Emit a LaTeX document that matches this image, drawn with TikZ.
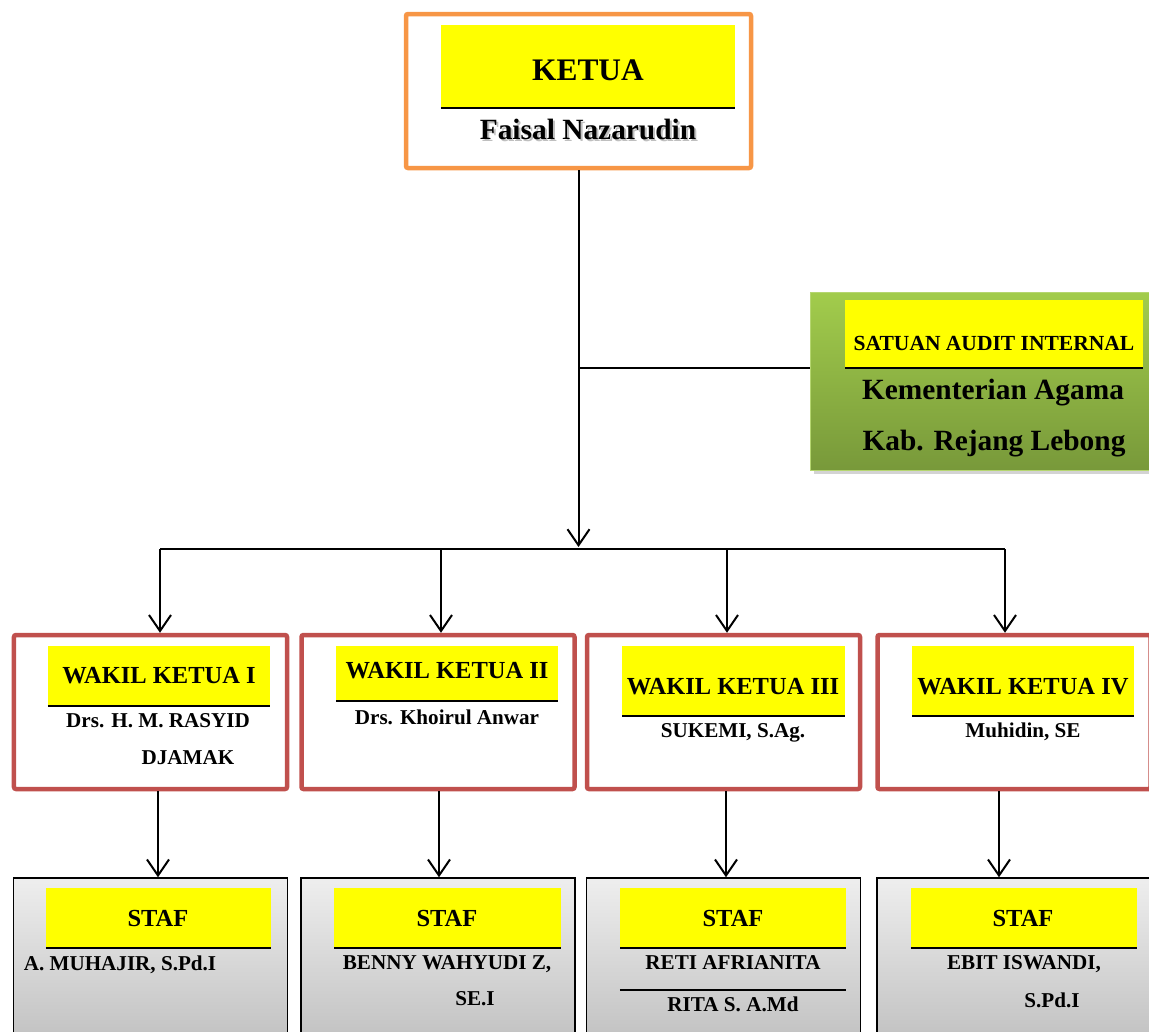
\documentclass[tikz,border=0pt]{standalone}
\usepackage{fontspec}
\setmainfont{Liberation Serif}
\usetikzlibrary{arrows.meta,positioning,shadows}
\definecolor{ketuaorange}{HTML}{F79646}
\definecolor{wakilred}{HTML}{C0504D}
\definecolor{auditlight}{HTML}{A2CC4C}
\definecolor{auditdark}{HTML}{78993A}
\definecolor{staftop}{HTML}{EEEEEE}
\definecolor{stafbottom}{HTML}{BDBDBD}
\definecolor{headyellow}{HTML}{FFFF00}
\newcommand{\ketuafont}{\fontsize{31.5}{34}\selectfont\bfseries}
\newcommand{\bossfont}{\fontsize{29.5}{32}\selectfont\bfseries}
\newcommand{\auditfont}{\fontsize{21.6}{24}\selectfont\bfseries}
\newcommand{\kemenfont}{\fontsize{29.5}{32}\selectfont\bfseries}
\newcommand{\titlefont}{\fontsize{24.6}{27}\selectfont\bfseries}
\newcommand{\namefont}{\fontsize{21.2}{24}\selectfont\bfseries}
\tikzset{
    %Define standard arrow tip
    >={Straight Barb[length=16bp,width=22bp]},
    %Define style for boxes
    ketuabox/.style={
           rectangle,
           rounded corners=2bp,
           draw=ketuaorange, line width=4.5bp,
           fill=white,
           minimum width=345bp,
           minimum height=154bp},
    wakilbox/.style={
           rectangle,
           rounded corners=2bp,
           draw=wakilred, line width=4.5bp,
           fill=white,
           minimum width=273bp,
           minimum height=154bp},
    stafbox/.style={
           rectangle,
           draw=black, line width=1.5bp,
           top color=staftop, bottom color=stafbottom,
           minimum width=274bp,
           minimum height=180bp},
    auditbox/.style={
           rectangle,
           draw=auditlight!80!white, line width=1bp,
           top color=auditlight, bottom color=auditdark,
           minimum width=350bp,
           minimum height=178bp,
           drop shadow={shadow xshift=4bp, shadow yshift=-4bp, opacity=.35}},
    % yellow header, ruled underneath
    head/.style={
           rectangle,
           fill=headyellow,
           inner sep=0pt,
           path picture={\draw[line width=3bp] (path picture bounding box.south west) -- (path picture bounding box.south east);}},
    % text styles
    ketualbl/.style={inner sep=0pt, font=\ketuafont, text height=20.8bp, text depth=0pt},
    bosslbl/.style={inner sep=0pt, font=\bossfont, text height=19.5bp, text depth=0pt},
    auditlbl/.style={inner sep=0pt, font=\auditfont, text height=14.3bp, text depth=0pt},
    kemenlbl/.style={inner sep=0pt, font=\kemenfont, text height=19.5bp, text depth=0pt},
    titlelbl/.style={inner sep=0pt, font=\titlefont, text height=16.2bp, text depth=0pt},
    namelbl/.style={inner sep=0pt, font=\namefont, text height=14bp, text depth=0pt},
    % Define arrow style
    imply/.style={
           ->,
           line width=2bp},
    link/.style={
           line width=2bp},
    rule/.style={
           line width=1.5bp}
}
\begin{document}
\begin{tikzpicture}[x=1bp, y=-1bp]
 \useasboundingbox (0,0) rectangle (1149,1032);
 \clip (0,0) rectangle (1149,1032);
 %nodes
    \node[ketuabox] (ketua) at (578.5,91) {};
    \node[head, minimum width=294bp, minimum height=83bp] (kh) at (588,66.5) {};
    \node[ketualbl] (kt) at (588,70) {KETUA};
    \node[bosslbl, text=black!25] (kshadow) at (590,132) {Faisal Nazarudin};
    \node[bosslbl] (kn) at (588,130) {Faisal Nazarudin};

    \node[auditbox] (audit) at (985,381) {};
    \node[head, minimum width=298bp, minimum height=68bp] (ah) at (994,334) {};
    \node[auditlbl] (at) at (994,343) {SATUAN AUDIT INTERNAL};
    \node[kemenlbl] (an1) at (993,390) {Kementerian Agama};
    \node[kemenlbl] (an2) at (994,441) {Kab. Rejang Lebong};

    \node[wakilbox] (w1) at (150.5,712) {};
    \node[wakilbox, right=10bp of w1] (w2) {};
    \node[wakilbox, right=8bp of w2] (w3) {};
    \node[wakilbox, right=13bp of w3] (w4) {};
    \node[head, minimum width=222bp, minimum height=60bp] (w1h) at (159,676) {};
    \node[head, minimum width=222bp, minimum height=55bp] (w2h) at (447,673.5) {};
    \node[head, minimum width=223bp, minimum height=70bp] (w3h) at (733.5,681) {};
    \node[head, minimum width=222bp, minimum height=70bp] (w4h) at (1023,681) {};
    \node[titlelbl] (w1t) at (159,675) {WAKIL KETUA I};
    \node[titlelbl] (w2t) at (447,670) {WAKIL KETUA II};
    \node[titlelbl] (w3t) at (733,686) {WAKIL KETUA III};
    \node[titlelbl] (w4t) at (1023,686) {WAKIL KETUA IV};
    \node[namelbl] (w1n) at (158,720) {Drs. H. M. RASYID};
    \node[namelbl] (w1m) at (188,757) {DJAMAK};
    \node[namelbl] (w2n) at (447,717) {Drs. Khoirul Anwar};
    \node[namelbl] (w3n) at (733,730) {SUKEMI, S.Ag.};
    \node[namelbl] (w4n) at (1023,730) {Muhidin, SE};

    \node[stafbox, below=86bp of w1] (s1) {};
    \node[stafbox, below=86bp of w2] (s2) {};
    \node[stafbox, below=86bp of w3] (s3) {};
    \node[stafbox, below=86bp of w4] (s4) {};
    \node[head, minimum width=225bp, minimum height=60bp] (s1h) at (158.5,918) {};
    \node[head, minimum width=227bp, minimum height=60bp] (s2h) at (447.5,918) {};
    \node[head, minimum width=226bp, minimum height=60bp] (s3h) at (733,918) {};
    \node[head, minimum width=226bp, minimum height=60bp] (s4h) at (1024,918) {};
    \node[titlelbl] (s1t) at (158,918) {STAF};
    \node[titlelbl] (s2t) at (447,918) {STAF};
    \node[titlelbl] (s3t) at (733,918) {STAF};
    \node[titlelbl] (s4t) at (1023,918) {STAF};
    \node[namelbl] (s1n) at (120,963) {A. MUHAJIR, S.Pd.I};
    \node[namelbl] (s2n) at (447,962) {BENNY WAHYUDI Z,};
    \node[namelbl] (s2m) at (475,998) {SE.I};
    \node[namelbl] (s3n) at (733,962) {RETI AFRIANITA};
    \node[namelbl] (s3m) at (733,1004) {RITA S. A.Md};
    \node[namelbl] (s4n) at (1024,962) {EBIT ISWANDI,};
    \node[namelbl] (s4m) at (1052,1000) {S.Pd.I};
    \draw[rule] ([yshift=-42bp]s3h.south west) -- ([yshift=-42bp]s3h.south east);

 %edges
    \coordinate (tee) at (578.5,368);
    \coordinate (hub) at (578.5,547);
    \coordinate (b1) at (160,549);
    \coordinate (b2) at (441,549);
    \coordinate (b3) at (727,549);
    \coordinate (b4) at (1005,549);
    \coordinate (d1) at (158,0);
    \coordinate (d2) at (439,0);
    \coordinate (d3) at (726,0);
    \coordinate (d4) at (999,0);
    \draw[imply] (ketua.south) -- (hub);
    \draw[link] (tee) -- (tee -| audit.west);
    \draw[link] (b1) -- (b4);
    \draw[imply] (b1) -- (w1.north -| b1);
    \draw[imply] (b2) -- (w2.north -| b2);
    \draw[imply] (b3) -- (w3.north -| b3);
    \draw[imply] (b4) -- (w4.north -| b4);
    \draw[imply] (w1.south -| d1) -- (s1.north -| d1);
    \draw[imply] (w2.south -| d2) -- (s2.north -| d2);
    \draw[imply] (w3.south -| d3) -- (s3.north -| d3);
    \draw[imply] (w4.south -| d4) -- (s4.north -| d4);
\end{tikzpicture}
\end{document}
